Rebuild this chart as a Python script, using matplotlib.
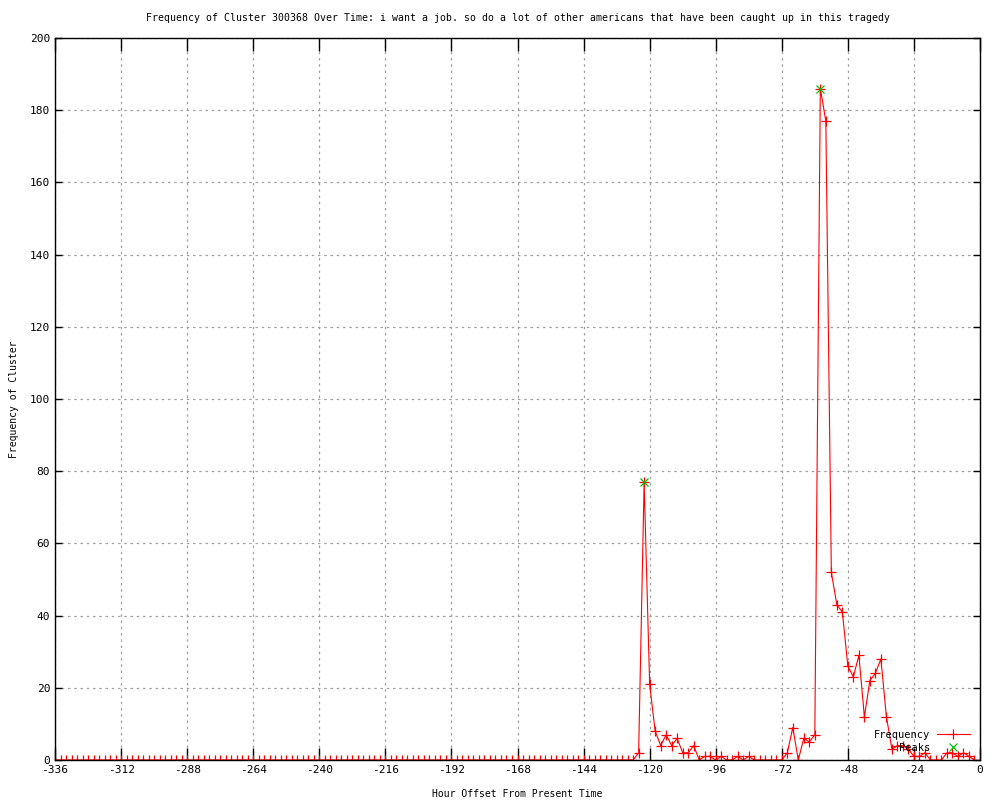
import numpy as np
import matplotlib
matplotlib.use("Agg")
import matplotlib.pyplot as plt

plt.rcParams['font.family'] = ['DejaVu Sans Mono']
plt.rcParams['axes.unicode_minus'] = False

# hour offsets, one sample every 2 hours
hours = np.arange(-336, 0, 2)

# frequency per sample (-336 .. -2)
freq = [
    0, 0, 0, 0, 0, 0, 0, 0, 0, 0, 0, 0, 0, 0, 0, 0, 0, 0, 0, 0,
    0, 0, 0, 0, 0, 0, 0, 0, 0, 0, 0, 0, 0, 0, 0, 0, 0, 0, 0, 0,
    0, 0, 0, 0, 0, 0, 0, 0, 0, 0, 0, 0, 0, 0, 0, 0, 0, 0, 0, 0,
    0, 0, 0, 0, 0, 0, 0, 0, 0, 0, 0, 0, 0, 0, 0, 0, 0, 0, 0, 0,
    0, 0, 0, 0, 0, 0, 0, 0, 0, 0, 0, 0, 0, 0, 0, 0, 0, 0, 0, 0,
    0, 0, 0, 0, 0,
    # -126 .. -102
    0, 2, 77, 21, 8, 4, 7, 4, 6, 2, 2, 4, 0,
    # -100 .. -72
    1, 1, 0, 1, 0, 0, 1, 0, 1, 0, 0, 0, 0, 0, 0,
    # -70 .. -44
    2, 9, 0, 6, 5, 7, 186, 177, 52, 43, 41, 26, 23, 29,
    # -42 .. -2
    12, 22, 24, 28, 12, 3, 4, 4, 3, 1, 1, 2, 0, 0, 0, 2, 2, 1, 2, 1, 0,
]

peak_hours = [-122, -58]
peak_values = [77, 186]

title = ("Frequency of Cluster 300368 Over Time: i want a job. so do a lot of "
         "other americans that have been caught up in this tragedy")

fig = plt.figure(figsize=(10, 8), dpi=100)
ax = fig.add_axes([0.055, 0.05, 0.925, 0.9025])

ax.plot(hours, freq, color="#ff0000", linewidth=0.8, marker="+",
        markersize=7, markeredgewidth=0.9, label="Frequency")
ax.plot(peak_hours, peak_values, linestyle="none", color="#00c000",
        marker="x", markersize=6, markeredgewidth=0.9, label="Peaks")

ax.set_xlim(-336, 0)
ax.set_ylim(0, 200)
ax.set_xticks(np.arange(-336, 1, 24))
ax.set_yticks(np.arange(0, 201, 20))
ax.tick_params(direction="in", top=True, right=True, length=5, width=1,
               labelsize=8, colors="black")
ax.tick_params(axis="x", length=9)

ax.grid(True, color="#a0a0a0", linestyle=(0, (2, 3)), linewidth=0.9)
for s in ax.spines.values():
    s.set_linewidth(1)
    s.set_color("black")

ax.set_title(title, fontsize=7.1, pad=12)
ax.set_xlabel("Hour Offset From Present Time", fontsize=7, labelpad=10)
ax.set_ylabel("Frequency of Cluster", fontsize=7, labelpad=8)

ax.legend(loc="lower right", bbox_to_anchor=(0.997, 0.0), frameon=False,
          markerfirst=False, fontsize=7.5, handlelength=3.2,
          labelspacing=0.25, handletextpad=0.6, borderpad=0.2)

fig.savefig("out.png", dpi=100)
